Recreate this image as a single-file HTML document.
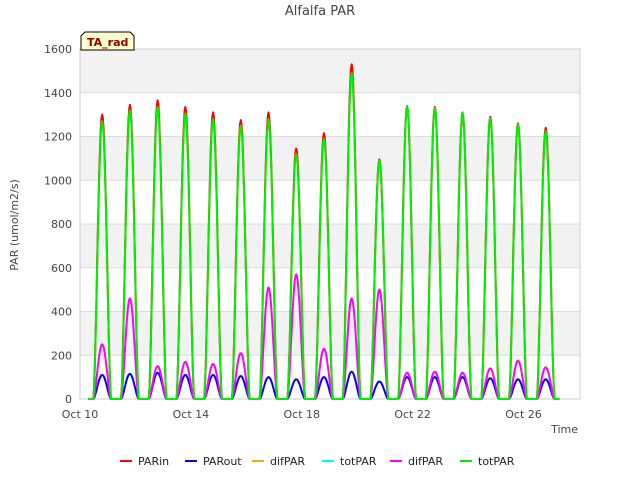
<!DOCTYPE html>
<html><head><meta charset="utf-8"><style>
body{margin:0;background:#fff;font-family:"Liberation Sans","DejaVu Sans",sans-serif}
svg text{font-family:"DejaVu Sans","Liberation Sans",sans-serif}
</style></head><body>
<svg id="chart" width="640" height="480" viewBox="0 0 640 480">
<rect width="640" height="480" fill="#fff"/>
<g id="bg"></g><g id="grid"></g><g id="axes"></g><g id="series"></g>
<text x="320" y="15" text-anchor="middle" font-size="13" fill="#444">Alfalfa PAR</text>
<text x="18" y="225" text-anchor="middle" font-size="11" fill="#444" transform="rotate(-90 18 225)">PAR (umol/m2/s)</text>
<text x="578" y="433" text-anchor="end" font-size="11" fill="#444">Time</text>
<g>
<path d="M81,50 L81,36 L85,32 L130,32 L134,36 L134,50 Z" fill="#ffffcc" stroke="#000" stroke-width="1"/>
<text x="87" y="46" font-size="11" font-weight="bold" fill="#8b0000">TA_rad</text>
</g>
<g id="legend"></g>
</svg>
<script>
const days=[0,1,2,3,4,5,6,7,8,9,10,11,12,13,14,15,16];
const parIn=[1300,1345,1365,1335,1310,1275,1310,1145,1215,1530,1095,1340,1335,1310,1290,1260,1240];
const totPar=[1270,1320,1335,1305,1280,1250,1280,1120,1190,1490,1090,1340,1330,1310,1285,1255,1225];
const parOut=[110,115,120,110,110,105,100,90,100,125,80,100,100,100,95,90,90];
const difPar=[250,460,150,170,160,210,510,570,230,460,500,120,125,120,140,175,145];
const yTicks=[0,200,400,600,800,1000,1200,1400,1600];
const xTicks=[0,4,8,12,16];
const xLabels=["Oct 10","Oct 14","Oct 18","Oct 22","Oct 26"];
const NS="http://www.w3.org/2000/svg";
const X0=80,X1=580,Y0=399,Y1=49;
const xs=d=>X0+d*27.72;
const ys=v=>Y0-(v/1600)*(Y0-Y1);
function el(t,a,p){const e=document.createElementNS(NS,t);for(const k in a)e.setAttribute(k,a[k]);document.getElementById(p)?document.getElementById(p).appendChild(e):p.appendChild(e);return e;}
el('rect',{x:X0,y:Y1,width:X1-X0,height:Y0-Y1,fill:'#fff'},'bg');
for(let i=0;i<yTicks.length-1;i++){if(i%2===1){const r=el('rect',{x:X0,y:ys(yTicks[i+1]),width:X1-X0,height:ys(yTicks[i])-ys(yTicks[i+1]),fill:'#f2f2f2'},'bg');}}
yTicks.forEach(v=>{const l=el('line',{x1:X0,x2:X1,y1:ys(v),y2:ys(v),stroke:'#dcdcdc'},'grid');
const t=el('text',{x:X0-8,y:ys(v)+4,'text-anchor':'end','font-size':11,fill:'#444'},'axes');t.textContent=v;});
xTicks.forEach((d,i)=>{
const t=el('text',{x:xs(d),y:Y0+19,'text-anchor':'middle','font-size':11,fill:'#444'},'axes');t.textContent=xLabels[i];});
el('rect',{x:X0,y:Y1,width:X1-X0,height:Y0-Y1,fill:'none',stroke:'#ccc'},'axes');
function path(vals,color,name,w){let d='M'+xs(0.3)+','+ys(0);
days.forEach((day,i)=>{const pk=day+0.8;d+=' L'+xs(pk-0.32).toFixed(1)+','+ys(0);
for(let k=0;k<=24;k++){const t=pk-0.32+k*0.64/24;const s=Math.pow(Math.sin(Math.PI*k/24),1.6);d+=' L'+xs(t).toFixed(1)+','+ys(vals[i]*s).toFixed(1);}
d+=' L'+xs(pk+0.34).toFixed(1)+','+ys(0);});
d+=' L'+xs(17.3)+','+ys(0);
const p=el('path',{d:d,fill:'none',stroke:color,'stroke-width':w,'stroke-linejoin':'round'},'series');
}
path(parIn,'#ff0000','parin-line',2);
path(parOut,'#0000ff','parout-line',2);
path(difPar,'#ff00ff','difpar-line',2);
path(totPar,'#00ee00','totpar-line',2);
const legNames=["PARin","PARout","difPAR","totPAR","difPAR","totPAR"];
const legColors=["#ff0000","#0000ff","#ffa500","#00ffff","#ff00ff","#00ee00"];
const legX=[120,185,252,322,390,460];
legNames.forEach((n,i)=>{const g=el('g',{},'legend');
el('line',{x1:legX[i],x2:legX[i]+12,y1:461,y2:461,stroke:legColors[i],'stroke-width':2},g);
const t=el('text',{x:legX[i]+18,y:465,'font-size':11,fill:'#222'},g);t.textContent=n;});
</script>
</body></html>
